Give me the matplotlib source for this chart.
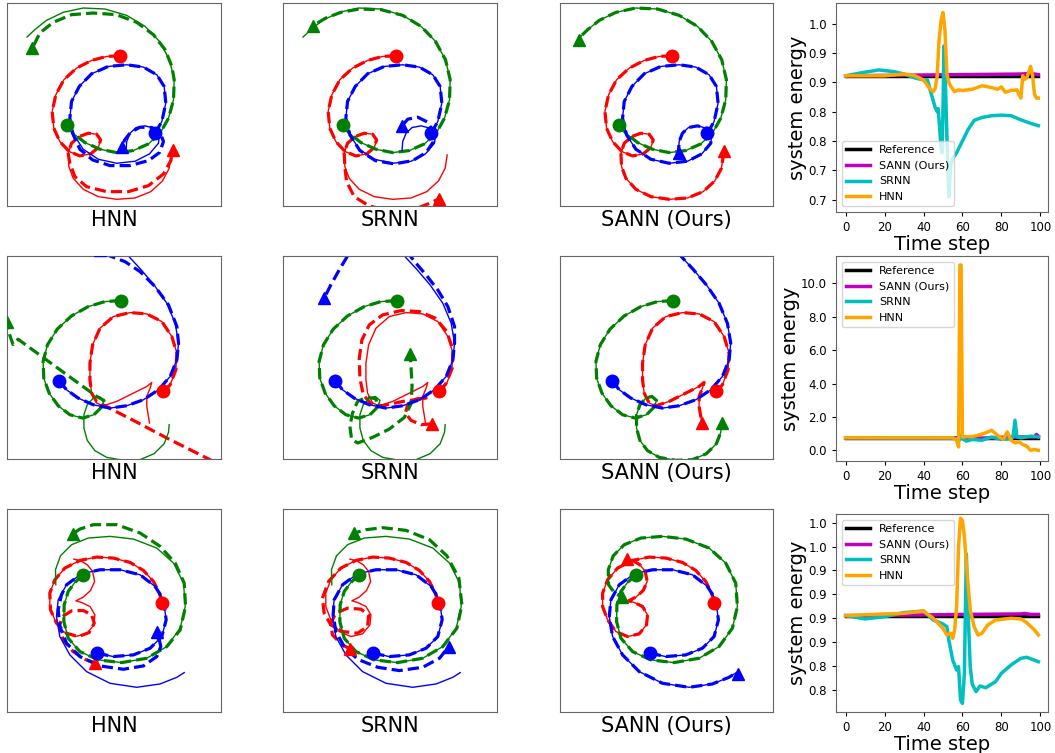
import matplotlib
matplotlib.use("Agg")
import matplotlib.pyplot as plt

W, H = 1055, 753

# ---------------- trajectory data (picture coords, y grows downward) ----------------
MODELS = ["HNN", "SRNN", "SANN (Ours)"]

# row 1
R1_REF_RED = [(360, 168), (320, 170), (275, 182), (230, 205), (192, 240), (168, 285), (157, 335), (162, 385),
              (180, 425), (208, 455), (240, 468), (272, 462), (295, 443), (302, 420), (290, 403), (265, 400),
              (238, 410), (215, 430), (205, 460), (207, 500), (220, 535), (250, 568), (295, 590), (350, 598),
              (405, 594), (452, 575), (487, 543), (507, 505), (513, 465)]
R1_REF_GREEN = [(200, 375), (222, 402), (255, 428), (300, 448), (350, 458), (400, 452), (445, 432), (480, 400),
                (505, 355), (520, 300), (522, 240), (508, 180), (478, 125), (435, 80), (380, 47), (315, 28),
                (250, 25), (190, 38), (140, 62), (105, 90), (82, 112)]
R1_REF_BLUE = [(465, 400), (485, 365), (497, 310), (492, 260), (470, 225), (430, 202), (380, 195), (325, 200),
               (275, 222), (238, 260), (215, 305), (210, 355), (222, 405), (250, 448), (295, 478), (350, 490),
               (405, 484), (448, 462), (475, 430), (478, 405), (462, 385), (435, 378), (408, 383), (390, 400),
               (380, 425), (378, 452)]
R1_HNN_RED = R1_REF_RED[:19] + [(210, 490), (225, 530), (260, 560), (320, 575), (385, 575), (445, 557),
                                (490, 522), (512, 482), (517, 450)]
R1_HNN_GREEN = R1_REF_GREEN[:11] + [(515, 200), (495, 150), (460, 105), (410, 68), (350, 45), (280, 40),
                                    (215, 45), (160, 68), (120, 100), (98, 145)]
R1_HNN_BLUE = R1_REF_BLUE[:12] + [(218, 400), (240, 448), (278, 480), (330, 497), (390, 497), (445, 482),
                                  (478, 458), (490, 425), (480, 398), (455, 383), (420, 382), (392, 397),
                                  (374, 420), (365, 442)]
R1_SRNN_RED = R1_REF_RED[:19] + [(207, 500), (212, 545), (235, 590), (280, 618), (340, 632), (410, 630),
                                 (455, 612), (490, 596)]
R1_SRNN_GREEN = R1_REF_GREEN[:15] + [(315, 30), (250, 28), (195, 38), (150, 55), (112, 78)]
R1_SRNN_BLUE = R1_REF_BLUE[:13] + [(252, 452), (298, 482), (355, 492), (410, 482), (450, 458), (472, 425),
                                   (470, 393), (455, 367), (425, 352), (395, 358), (378, 378)]
R1_SANN_RED = R1_REF_RED + [(515, 452)]
R1_SANN_GREEN = R1_REF_GREEN + [(80, 120)]
R1_SANN_BLUE = R1_REF_BLUE + [(380, 460)]

# row 2
R2_REF_RED = [(490, 425), (510, 405), (527, 360), (530, 310), (515, 260), (485, 215), (440, 192), (390, 188),
              (340, 200), (300, 235), (278, 285), (270, 340), (270, 390), (275, 430), (290, 460), (310, 468),
              (350, 455), (400, 430), (440, 410), (455, 398), (450, 415), (440, 440), (440, 470), (445, 500),
              (448, 520)]
R2_REF_GREEN = [(362, 152), (315, 155), (265, 170), (215, 198), (172, 238), (143, 285), (130, 335), (132, 385),
                (148, 430), (175, 468), (210, 495), (248, 505), (282, 495), (305, 472), (312, 452), (298, 440),
                (280, 445), (262, 465), (252, 495), (252, 535), (262, 572), (285, 603), (320, 623), (370, 632),
                (420, 630), (462, 612), (492, 582), (505, 548), (507, 525)]
R2_REF_BLUE = [(178, 393), (200, 420), (235, 445), (280, 465), (330, 475), (380, 468), (430, 450), (475, 420),
               (510, 380), (530, 330), (535, 280), (525, 220), (500, 160), (462, 105), (422, 58), (385, 18),
               (350, -20)]
R2_HNN_RED = R2_REF_RED[:14] + [(290, 455), (330, 476), (400, 512), (500, 565), (625, 628), (660, 645)]
R2_HNN_GREEN = R2_REF_GREEN[:15] + [(290, 440), (55, 268), (40, 284), (30, 255), (22, 215)]
R2_HNN_BLUE = R2_REF_BLUE[:11] + [(530, 230), (505, 165), (465, 110), (420, 65), (375, 35), (330, 18), (300, 0)]
R2_SRNN_RED = [(490, 425), (510, 400), (528, 355), (530, 300), (512, 245), (478, 205), (430, 185), (375, 182),
               (320, 195), (280, 225), (258, 270), (250, 325), (252, 385), (262, 435), (285, 462), (320, 468),
               (380, 455), (430, 448), (450, 445), (420, 448), (395, 465), (388, 490), (405, 512), (435, 525),
               (468, 522)]
R2_SRNN_GREEN = R2_REF_GREEN[:14] + [(300, 447), (272, 442), (245, 455), (230, 490), (222, 530), (227, 568),
                                     (245, 580), (290, 563), (340, 538), (385, 503), (405, 462), (408, 410),
                                     (405, 355), (402, 312)]
R2_SRNN_BLUE = R2_REF_BLUE[:11] + [(535, 230), (515, 170), (485, 120), (450, 75), (420, 40), (400, 15),
                                   (370, -20), (300, -40), (240, -15), (215, 18), (190, 60), (165, 105), (145, 145)]
R2_SANN_RED = R2_REF_RED
R2_SANN_GREEN = R2_REF_GREEN + [(508, 520)]
R2_SANN_BLUE = R2_REF_BLUE

# row 3
R3_REF_RED = [(485, 310), (478, 280), (460, 245), (430, 212), (390, 188), (340, 175), (290, 172), (240, 182),
              (195, 205), (165, 240), (150, 280), (150, 320), (165, 360), (190, 395), (225, 410), (260, 402),
              (282, 375), (285, 345), (270, 320), (245, 308), (228, 303), (250, 292), (272, 272), (284, 245),
              (278, 215), (262, 195), (242, 183), (222, 178)]
R3_REF_GREEN = [(250, 225), (225, 248), (205, 275), (193, 315), (192, 365), (205, 415), (240, 455), (295, 480),
                (365, 488), (440, 475), (500, 440), (540, 385), (555, 320), (550, 250), (520, 190), (470, 145),
                (400, 118), (330, 110), (265, 115), (215, 135), (182, 168), (167, 210), (168, 255)]
R3_REF_BLUE = [(292, 460), (340, 470), (400, 465), (450, 445), (485, 410), (498, 360), (490, 300), (465, 260),
               (420, 225), (360, 210), (300, 210), (245, 222), (200, 255), (175, 300), (170, 350), (180, 410),
               (210, 465), (260, 515), (330, 550), (410, 562), (480, 552), (530, 532), (552, 518)]
R3_HNN_RED = R3_REF_RED[:11] + [(152, 330), (170, 370), (200, 400), (235, 410), (268, 398), (283, 370),
                                (275, 345), (250, 332), (215, 333), (188, 350), (178, 380), (190, 420),
                                (220, 455), (255, 478), (285, 490)]
R3_HNN_GREEN = R3_REF_GREEN[:11] + [(540, 390), (556, 320), (552, 250), (525, 190), (480, 140), (420, 100),
                                    (350, 75), (280, 75), (240, 88), (218, 103)]
R3_HNN_BLUE = R3_REF_BLUE[:13] + [(185, 285), (175, 330), (180, 380), (200, 430), (240, 470), (300, 498),
                                  (370, 508), (430, 498), (470, 470), (482, 440), (472, 395)]
R3_SRNN_RED = R3_REF_RED[:9] + [(158, 245), (140, 295), (145, 340), (165, 375), (200, 395), (245, 400),
                                (275, 380), (278, 345), (255, 328), (215, 325), (180, 340), (165, 370),
                                (170, 405), (195, 432), (222, 447)]
R3_SRNN_GREEN = R3_REF_GREEN[:11] + [(542, 385), (557, 315), (548, 235), (512, 168), (460, 120), (390, 92),
                                     (320, 84), (270, 90), (235, 100)]
R3_SRNN_BLUE = R3_REF_BLUE[:14] + [(172, 345), (180, 395), (205, 440), (245, 478), (305, 502), (370, 512),
                                   (440, 502), (490, 475), (518, 440)]
R3_SANN_RED = R3_REF_RED
R3_SANN_GREEN = R3_REF_GREEN + [(185, 278), (207, 292)]
R3_SANN_BLUE = R3_REF_BLUE + [(558, 522)]

ROWS = [
    {"ref": [R1_REF_RED, R1_REF_GREEN, R1_REF_BLUE],
     "pred": [[R1_HNN_RED, R1_HNN_GREEN, R1_HNN_BLUE],
              [R1_SRNN_RED, R1_SRNN_GREEN, R1_SRNN_BLUE],
              [R1_SANN_RED, R1_SANN_GREEN, R1_SANN_BLUE]],
     "ylim": (618, 10)},
    {"ref": [R2_REF_RED, R2_REF_GREEN, R2_REF_BLUE],
     "pred": [[R2_HNN_RED, R2_HNN_GREEN, R2_HNN_BLUE],
              [R2_SRNN_RED, R2_SRNN_GREEN, R2_SRNN_BLUE],
              [R2_SANN_RED, R2_SANN_GREEN, R2_SANN_BLUE]],
     "ylim": (628, 18)},
    {"ref": [R3_REF_RED, R3_REF_GREEN, R3_REF_BLUE],
     "pred": [[R3_HNN_RED, R3_HNN_GREEN, R3_HNN_BLUE],
              [R3_SRNN_RED, R3_SRNN_GREEN, R3_SRNN_BLUE],
              [R3_SANN_RED, R3_SANN_GREEN, R3_SANN_BLUE]],
     "ylim": (636, 28)},
]
BODY_COLORS = ["r", "g", "b"]

# ---------------- energy data ----------------
E_LABELS = ["Reference", "SANN (Ours)", "SRNN", "HNN"]
E_COLORS = ["k", "m", "c", "orange"]

E1_REF_T = [0, 99]
E1_REF = [0.911, 0.911]
E1_SANN_T = [0, 30, 60, 90, 95, 99]
E1_SANN = [0.911, 0.912, 0.913, 0.914, 0.915, 0.913]
E1_SRNN_T = [0, 8, 17, 25, 30, 36, 40, 42, 44, 46, 47, 47.5, 48, 49, 49.5, 50, 50.5, 51, 52, 53, 54, 55, 57,
             60, 63, 66, 70, 75, 80, 85, 90, 95, 99]
E1_SRNN = [0.911, 0.916, 0.921, 0.918, 0.914, 0.907, 0.904, 0.904, 0.88, 0.857, 0.85, 0.855, 0.835, 0.79, 0.78,
           0.85, 0.962, 0.93, 0.81, 0.705, 0.76, 0.77, 0.78, 0.80, 0.82, 0.835, 0.840, 0.843, 0.844, 0.843,
           0.836, 0.830, 0.826]
E1_HNN_T = [0, 20, 30, 35, 40, 43, 45, 46, 47, 48, 49, 50, 51, 52, 53, 54, 56, 58, 60, 65, 70, 75, 78, 80, 82,
            85, 88, 90, 91, 92, 93, 95, 96, 97, 98, 99]
E1_HNN = [0.911, 0.911, 0.914, 0.912, 0.904, 0.89, 0.884, 0.89, 0.91, 0.972, 1.004, 1.019, 0.99, 0.915, 0.90,
          0.893, 0.884, 0.887, 0.886, 0.888, 0.894, 0.891, 0.888, 0.892, 0.883, 0.886, 0.887, 0.873, 0.911,
          0.905, 0.907, 0.927, 0.912, 0.88, 0.873, 0.873]

E2_REF_T = [0, 99]
E2_REF = [0.75, 0.75]
E2_SANN_T = [0, 58, 60, 70, 80, 90, 97, 98, 99]
E2_SANN = [0.75, 0.75, 0.8, 0.72, 0.78, 0.8, 0.8, 0.95, 0.85]
E2_SRNN_T = [0, 55, 57, 58, 59, 60, 62, 65, 70, 75, 80, 85, 86, 87, 88, 90, 95, 99]
E2_SRNN = [0.75, 0.74, 0.7, 0.5, 0.9, 0.7, 0.55, 0.65, 0.6, 0.8, 0.65, 0.7, 0.8, 1.8, 0.8, 0.75, 0.85, 0.8]
E2_HNN_T = [0, 55, 57, 58, 58.7, 59.3, 60, 65, 68, 72, 75, 77, 79, 81, 83, 85, 87, 89, 91, 93, 95, 97, 99]
E2_HNN = [0.75, 0.75, 0.6, 0.2, 11.1, 11.1, 0.8, 0.82, 0.9, 1.05, 1.2, 1.0, 0.8, 0.65, 1.1, 0.6, 0.45, 0.5,
          0.35, 0.25, 0.0, 0.05, 0.0]

E3_REF_T = [0, 99]
E3_REF = [0.8778, 0.8778]
E3_SANN_T = [0, 40, 60, 90, 92, 95, 99]
E3_SANN = [0.8778, 0.8785, 0.879, 0.8795, 0.880, 0.879, 0.879]
E3_SRNN_T = [0, 10, 20, 30, 40, 45, 50, 52, 53, 55, 57, 58, 59, 60, 61, 62, 63, 64, 65, 67, 69, 72, 77, 80,
             85, 90, 93, 99]
E3_SRNN = [0.8778, 0.8743, 0.8767, 0.8809, 0.8826, 0.8732, 0.869, 0.8662, 0.8523, 0.8314, 0.8209, 0.8244,
           0.7895, 0.786, 0.8174, 0.9423, 0.8767, 0.8244, 0.8063, 0.7983, 0.8042, 0.8024, 0.8087, 0.8174,
           0.8262, 0.8331, 0.8342, 0.8296]
E3_HNN_T = [0, 20, 30, 40, 45, 50, 52, 54, 55, 56, 57, 58, 59, 60, 61, 62, 63, 64, 66, 68, 70, 73, 77, 85, 90,
            93, 97, 99]
E3_HNN = [0.8778, 0.8795, 0.8802, 0.8826, 0.875, 0.8645, 0.8575, 0.8593, 0.854, 0.8628, 0.8872, 0.95, 0.9796,
          0.9771, 0.9604, 0.9325, 0.908, 0.8837, 0.8662, 0.8575, 0.8593, 0.868, 0.8732, 0.875, 0.8743, 0.8704,
          0.8628, 0.8575]

# tick labels as printed in the picture (rounded to one decimal)
E1_YTICKS = [0.70, 0.75, 0.80, 0.85, 0.90, 0.95, 1.00]
E1_YLABELS = ["0.7", "0.7", "0.8", "0.8", "0.9", "0.9", "1.0"]
E2_YTICKS = [0, 2, 4, 6, 8, 10]
E2_YLABELS = ["0.0", "2.0", "4.0", "6.0", "8.0", "10.0"]
E3_YTICKS = [0.800, 0.825, 0.850, 0.875, 0.900, 0.925, 0.950, 0.975]
E3_YLABELS = ["0.8", "0.8", "0.9", "0.9", "0.9", "0.9", "1.0", "1.0"]

ENERGY = [
    {"series": [(E1_REF_T, E1_REF), (E1_SANN_T, E1_SANN), (E1_SRNN_T, E1_SRNN), (E1_HNN_T, E1_HNN)],
     "yticks": E1_YTICKS, "ylabels": E1_YLABELS, "ylim": (0.679, 1.035), "loc": "lower left"},
    {"series": [(E2_REF_T, E2_REF), (E2_SANN_T, E2_SANN), (E2_SRNN_T, E2_SRNN), (E2_HNN_T, E2_HNN)],
     "yticks": E2_YTICKS, "ylabels": E2_YLABELS, "ylim": (-0.64, 11.64), "loc": "upper left"},
    {"series": [(E3_REF_T, E3_REF), (E3_SANN_T, E3_SANN), (E3_SRNN_T, E3_SRNN), (E3_HNN_T, E3_HNN)],
     "yticks": E3_YTICKS, "ylabels": E3_YLABELS, "ylim": (0.777, 0.984), "loc": "upper left"},
]

# ---------------- layout (pixel boxes) ----------------
COL_X = [(7, 221), (283, 497), (560, 773)]
ROW_Y = [(3, 206), (256, 459), (509, 712)]
ENERGY_BOX = [(836, 3, 1048, 212), (836, 256, 1048, 461), (836, 514, 1048, 712)]


def px_axes(fig, x0, y0, x1, y1):
    return fig.add_axes([x0 / W, 1 - y1 / H, (x1 - x0) / W, (y1 - y0) / H])


fig = plt.figure(figsize=(W / 100, H / 100), dpi=100)

for r, row in enumerate(ROWS):
    y0, y1 = ROW_Y[r]
    for c in range(3):
        x0, x1 = COL_X[c]
        ax = px_axes(fig, x0, y0, x1, y1)
        for body, color in enumerate(BODY_COLORS):
            ref = row["ref"][body]
            pred = row["pred"][c][body]
            ax.plot([p[0] for p in ref], [p[1] for p in ref], color=color, lw=1.0,
                    solid_joinstyle="round")
            ax.plot([p[0] for p in pred], [p[1] for p in pred], color=color, lw=2.3, ls=(0, (3.5, 1.6)),
                    dash_joinstyle="round")
            ax.plot(ref[0][0], ref[0][1], "o", color=color, ms=9, zorder=5)
            ax.plot(pred[-1][0], pred[-1][1], "^", color=color, ms=9, zorder=5)
        ax.set_xlim(22, 662)
        ax.set_ylim(*row["ylim"])
        ax.set_xticks([])
        ax.set_yticks([])
        for s in ax.spines.values():
            s.set_edgecolor("0.4")
        ax.set_xlabel(MODELS[c], fontsize=15, labelpad=3)

for r, e in enumerate(ENERGY):
    ax = px_axes(fig, *ENERGY_BOX[r])
    for (t, v), lab, col in zip(e["series"], E_LABELS, E_COLORS):
        ax.plot(t, v, color=col, lw=2.5, label=lab)
    ax.set_xticks([0, 20, 40, 60, 80, 100])
    ax.set_xlim(-4.95, 103.95)
    ax.set_yticks(e["yticks"])
    ax.set_yticklabels(e["ylabels"])
    ax.set_ylim(*e["ylim"])
    ax.tick_params(labelsize=8.5, length=3)
    for s in ax.spines.values():
        s.set_edgecolor("0.4")
    ax.set_xlabel("Time step", fontsize=14, labelpad=0.5)
    ax.set_ylabel("system energy", fontsize=14, labelpad=1)
    ax.legend(loc=e["loc"], fontsize=8, handlelength=2.2)

fig.savefig("out.png", dpi=100)
